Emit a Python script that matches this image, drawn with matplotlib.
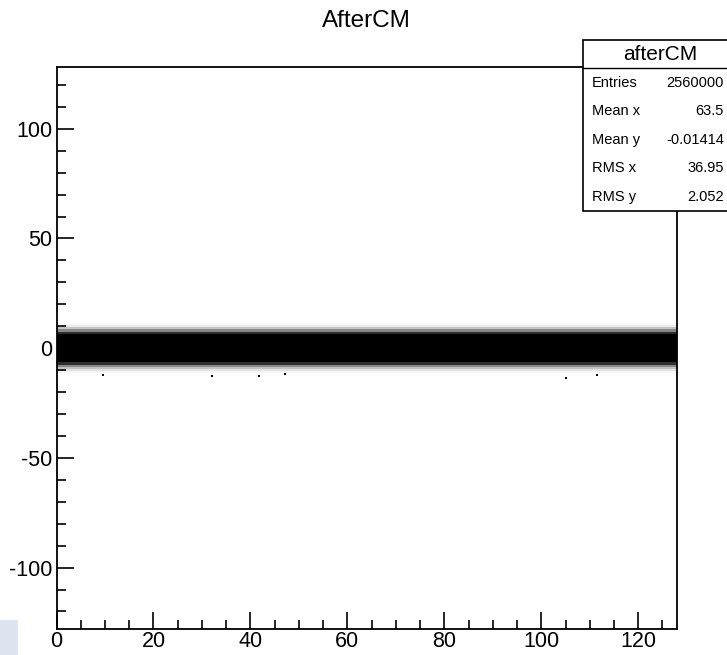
"""AfterCM: ROOT-style 2D scatter of pedestal-subtracted ADC after common-mode correction."""
import numpy as np
import matplotlib
matplotlib.use("Agg")
import matplotlib.pyplot as plt
from matplotlib.patches import Rectangle
from matplotlib.lines import Line2D
from matplotlib.ticker import MultipleLocator

plt.rcParams["font.family"] = ["Liberation Sans", "DejaVu Sans"]
plt.rcParams["axes.unicode_minus"] = False

# ---- data ----
n_channels = 128
y_bins = [-12, -11, -10, -9, -8, -7, -6, -5, -4, -3, -2, -1, 0,
          1, 2, 3, 4, 5, 6, 7, 8, 9, 10, 11, 12]
# visible fill fraction of each y bin (1 = solid black)
fill = [0.0, 0.08, 0.2, 0.35, 0.55, 0.85, 1, 1, 1, 1, 1, 1, 1,
        1, 1, 1, 1, 1, 1, 0.85, 0.55, 0.35, 0.15, 0.06, 0.0]
out_x = [9.6, 32.0, 41.8, 47.1, 105.2, 111.4]
out_y = [-12.3, -12.5, -12.8, -12.0, -13.7, -12.3]

stat_labels = ["Entries", "Mean x", "Mean y", "RMS x", "RMS y"]
stat_values = ["2560000", "63.5", "-0.01414", "36.95", "2.052"]

W, H = 727, 655
def fx(px): return px / W
def fy(py): return 1 - py / H

fig = plt.figure(figsize=(W / 100, H / 100), dpi=100)
ax = fig.add_axes([fx(56.5), fy(629), fx(677) - fx(56.5), fy(67.3) - fy(629)])

x_edges = np.arange(n_channels + 1)
y_edges = np.append(np.array(y_bins) - 0.5, y_bins[-1] + 0.5)
C = np.tile(np.array(fill)[:, None], (1, n_channels))
ax.pcolormesh(x_edges, y_edges, C, cmap="Greys", vmin=0, vmax=1, shading="flat")
ax.plot(out_x, out_y, "s", color="k", ms=1.8, mew=0)

ax.set_xlim(0, 128); ax.set_ylim(-128, 128)
ax.xaxis.set_major_locator(MultipleLocator(20)); ax.xaxis.set_minor_locator(MultipleLocator(5))
ax.yaxis.set_major_locator(MultipleLocator(50)); ax.yaxis.set_minor_locator(MultipleLocator(10))
ax.tick_params(which="major", direction="in", length=12.5, width=1.2, labelsize=15.5)
ax.tick_params(which="minor", direction="in", length=6.5, width=1.2)
ax.tick_params(axis="x", pad=1.5)
ax.tick_params(axis="y", pad=3)
for s in ax.spines.values(): s.set_linewidth(1.3)

fig.text(fx(366), fy(21), "AfterCM", ha="center", va="center", fontsize=17.5)

# stats box (runs off the right edge like the original)
x0, x1, y0, y1, ysep = 583, 737, 40, 211, 68.3
fig.add_artist(Rectangle((fx(x0), fy(y1)), fx(x1) - fx(x0), fy(y0) - fy(y1),
                         facecolor="white", edgecolor="black", lw=1.2, clip_on=False))
fig.add_artist(Line2D([fx(x0), fx(x1)], [fy(ysep), fy(ysep)], color="black", lw=1.0))
fig.text(fx(660), fy(55), "afterCM", ha="center", va="center", fontsize=15)
row_h = (y1 - ysep) / len(stat_labels)
for i, (lab, val) in enumerate(zip(stat_labels, stat_values)):
    yc = ysep + row_h * (i + 0.5)
    fig.text(fx(592), fy(yc), lab, ha="left", va="center", fontsize=10.5)
    fig.text(fx(724), fy(yc), val, ha="right", va="center", fontsize=10.5)

# light patch in the lower-left corner
fig.add_artist(Rectangle((0, 0), fx(18), fy(620), facecolor="#dde4f0", edgecolor="none"))

fig.savefig("out.png", dpi=100)
